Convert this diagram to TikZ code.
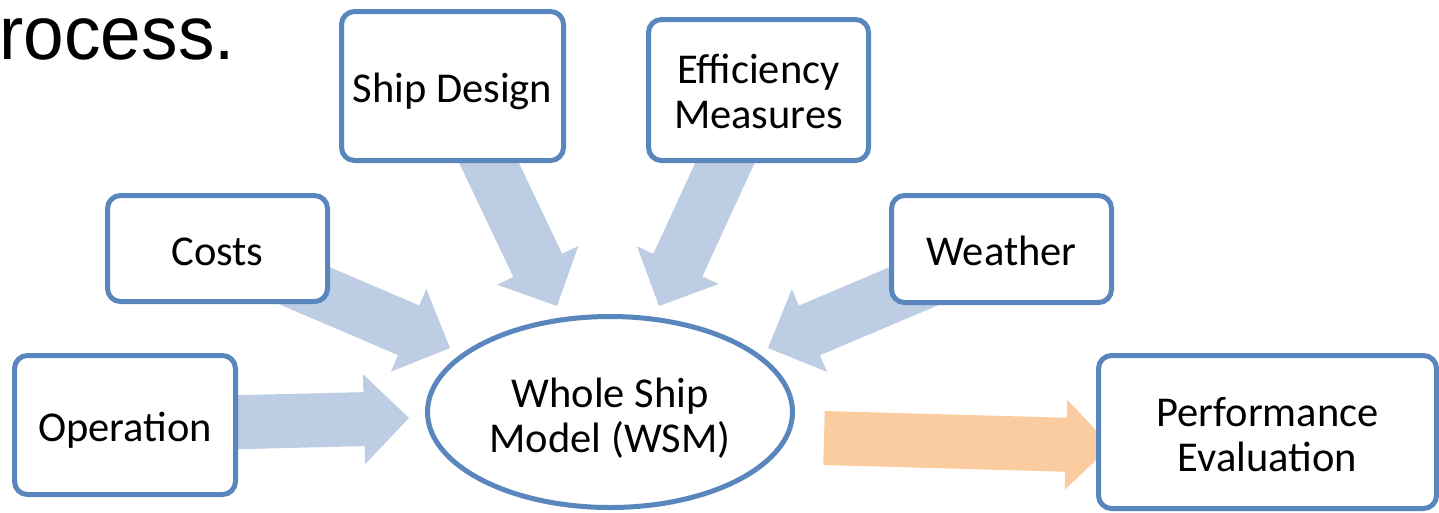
\documentclass[tikz,border=0pt]{standalone}
\usepackage{fontspec}
\usepackage{graphicx}
\setmainfont{Carlito}
\newfontfamily\arialfont{Liberation Sans}
\usetikzlibrary{calc,shapes.geometric}
\definecolor{boxblue}{RGB}{88,134,189}
\definecolor{arrblue}{RGB}{189,205,227}
\definecolor{arrorange}{RGB}{251,204,160}
\tikzset{
  box/.style={draw=boxblue, line width=5pt, rounded corners=13pt, fill=white, inner sep=0pt},
  wsmshape/.style={ellipse, draw=boxblue, line width=5pt, fill=white, inner sep=0pt},
  lbl/.style={align=center, inner sep=0pt, text=black, font=\fontsize{42.5}{45}\selectfont},
}
% block arrow: fill colour, start, tip
\newcommand{\blockarrow}[3]{%
  \coordinate (hb) at ($(#3)!45pt!(#2)$);
  \fill[#1] ($(#2)!27pt!90:(#3)$) -- ($(hb)!27pt!-90:(#2)$) -- ($(hb)!45pt!-90:(#2)$)
    -- (#3) -- ($(hb)!45pt!90:(#2)$) -- ($(hb)!27pt!90:(#2)$) -- ($(#2)!27pt!-90:(#3)$) -- cycle;
}
\begin{document}
\begin{tikzpicture}[x=1pt,y=-1pt]
\useasboundingbox (0,0) rectangle (1439,512);
% title fragment
\node[anchor=base east, inner sep=0pt, font=\arialfont\fontsize{76}{84}\selectfont] (title) at (235,59) {\scalebox{0.96}[1]{rocess.}};
% node centres
\coordinate (cship) at (452.5,86);
\coordinate (ceff) at (758.5,90);
\coordinate (ccost) at (217.5,248.5);
\coordinate (cweath) at (1001.5,249);
\coordinate (coper) at (125,425);
\coordinate (cperf) at (1267.5,432);
\coordinate (cwsm) at (610,412);
% arrow tips
\coordinate (tship) at (557,306);
\coordinate (teff) at (659,306);
\coordinate (tcost) at (450,348);
\coordinate (tweath) at (768,348);
\coordinate (toper) at (409,418);
\coordinate (sout) at (824,438);
\coordinate (tout) at (1111,446);
% arrows
\blockarrow{arrblue}{cship}{tship}
\blockarrow{arrblue}{ceff}{teff}
\blockarrow{arrblue}{ccost}{tcost}
\blockarrow{arrblue}{cweath}{tweath}
\blockarrow{arrblue}{coper}{toper}
\blockarrow{arrorange}{sout}{tout}
% boxes
\node[box, minimum width=222pt, minimum height=149pt] (ship) at (cship) {};
\node[box, minimum width=220pt, minimum height=141pt] (eff) at (ceff) {};
\node[box, minimum width=220pt, minimum height=106pt] (cost) at (ccost) {};
\node[box, minimum width=220pt, minimum height=107pt] (weath) at (cweath) {};
\node[box, minimum width=221pt, minimum height=139pt] (oper) at (coper) {};
\node[box, minimum width=338pt, minimum height=153pt] (perf) at (cperf) {};
\node[wsmshape, minimum width=365pt, minimum height=191pt] (wsm) at (cwsm) {};
% texts
\node[lbl] (ship-t) at ($(ship.center)+(0,5)$) {Ship Design};
\node[lbl] (eff-t) at ($(eff.center)+(0,1)$) {Efficiency\\Measures};
\node[lbl] (cost-t) at ($(cost.center)+(0,3)$) {Costs};
\node[lbl] (weath-t) at ($(weath.center)+(0,1.5)$) {Weather};
\node[lbl] (oper-t) at ($(oper.center)+(0,5)$) {Operation};
\node[lbl] (perf-t) at ($(perf.center)+(0,3)$) {Performance\\Evaluation};
\node[lbl] (wsm-t) at ($(wsm.center)+(0,6.5)$) {Whole Ship\\Model (WSM)};
\end{tikzpicture}
\end{document}
